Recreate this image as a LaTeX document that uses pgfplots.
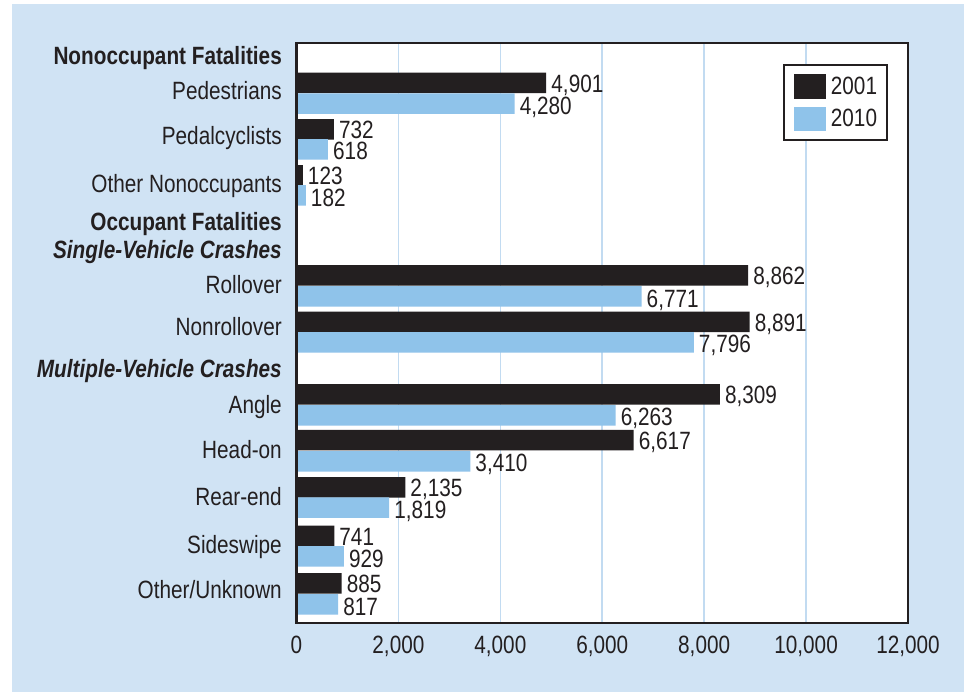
\documentclass[border=0pt]{standalone}
\usepackage{pgfplots}
\pgfplotsset{compat=1.18}
\usepackage{fontspec}
\setmainfont{Liberation Sans}[FakeStretch=0.83]
\definecolor{textcol}{HTML}{231F20}
\definecolor{bgblue}{HTML}{D0E3F4}
\definecolor{barblue}{HTML}{8FC3EA}
\definecolor{gridblue}{HTML}{C2DBF1}
\pgfplotsset{
  sqlegend/.style={legend image code/.code={\fill[##1] (0bp,-12.3bp) rectangle (32bp,12.3bp);}},
  mybar/.style={xbar, bar shift=0pt, draw=none, point meta=x, nodes near coords,
    every node near coord/.append style={anchor=base west, inner sep=0pt, xshift=5bp, yshift=#1, text=textcol},
    sqlegend},
  frameaxis/.style={at={(296.5bp,69bp)}, anchor=south west,
    scale only axis, width=611.5bp, height=580bp,
    xmin=0, xmax=12000, ymin=69, ymax=649},
}
\begin{document}
\begin{tikzpicture}[font=\fontsize{25bp}{29bp}\selectfont]
\path (0,0) rectangle (964bp,692bp);
\fill[bgblue] (12bp,0) rectangle (964bp,688bp);
\begin{axis}[
  frameaxis,
  axis line style={draw=none},
  axis background/.style={fill=white},
  xmajorgrids, grid style={gridblue, line width=1.6bp},
  xtick={0,2000,4000,6000,8000,10000,12000},
  scaled x ticks=false,
  major tick length=0pt,
  /pgf/number format/.cd, fixed, precision=0, 1000 sep={,}, assume math mode=true, /pgfplots/.cd,
  xticklabel style={anchor=north, inner sep=0pt, yshift=-13bp, text=textcol},
  ytick={627,592.7,547,499.7,461.3,433.7,398.7,356,314.7,278.7,233,186.3,138,93.7},
  yticklabels={{\textbf{Nonoccupant Fatalities}}, Pedestrians, Pedalcyclists, Other Nonoccupants, {\textbf{Occupant Fatalities}}, {\textbf{\textit{Single-Vehicle Crashes}}}, Rollover, Nonrollover, {\textbf{\textit{Multiple-Vehicle Crashes}}}, Angle, Head-on, Rear-end, Sideswipe, Other/Unknown},
  yticklabel style={anchor=base east, inner sep=0pt, xshift=-14.5bp, text=textcol},
  bar width=20.5,
  clip=false,
  legend style={at={(1,1)}, anchor=north east, xshift=-20.3bp, yshift=-21.3bp,
    draw=textcol, line width=1.3bp, fill=white, inner xsep=10bp, inner ysep=9bp,
    row sep=8bp, column sep=5bp, nodes={inner sep=0pt, text=textcol}},
]
\addplot[mybar=-9.6bp, fill=textcol]
  coordinates {(4901,609) (732,562.7) (123,516.7) (8862,416.7) (8891,370) (8309,297.7) (6617,251.8) (2135,204.7) (741,156) (885,108.7)};
\addlegendentry{2001}
\addplot[mybar=-10.7bp, fill=barblue]
  coordinates {(4280,588.4) (618,542.7) (182,496.5) (6771,395.5) (7796,349.7) (6263,276.7) (3410,230.7) (1819,184.3) (929,135.5) (817,87.5)};
\addlegendentry{2010}
\end{axis}
\begin{axis}[
  frameaxis,
  axis line style={draw=textcol, line width=2.3bp},
  xtick=\empty, ytick=\empty,
]
\end{axis}
\end{tikzpicture}
\end{document}
